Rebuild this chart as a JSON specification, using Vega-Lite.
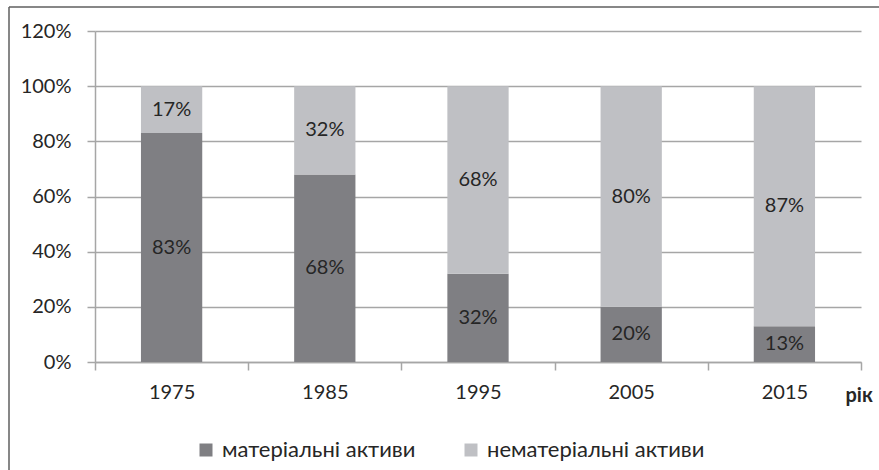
{
  "$schema": "https://vega.github.io/schema/vega-lite/v6.json",
  "autosize": "none",
  "width": 870,
  "height": 463,
  "padding": {"left": 9, "top": 7, "right": 0, "bottom": 0},
  "background": "white",
  "config": {
    "font": "Lato",
    "view": {"stroke": "#606060", "strokeWidth": 1.5, "strokeDash": [870, 1333, 463, 0]},
    "axis": {"labelFont": "Lato", "labelFontSize": 20, "labelColor": "#262626", "domainColor": "#a6a6a6", "domainWidth": 1.5, "tickColor": "#a6a6a6", "tickWidth": 1.5, "tickSize": 8, "gridColor": "#a6a6a6", "gridWidth": 1.5},
    "legend": {"labelFont": "Lato", "labelFontSize": 22, "labelColor": "#262626"}
  },
  "data": {"values": [
    {"year": "1975", "type": "матеріальні активи", "value": 0.83, "ord": 1},
    {"year": "1975", "type": "нематеріальні активи", "value": 0.17, "ord": 2},
    {"year": "1985", "type": "матеріальні активи", "value": 0.68, "ord": 1},
    {"year": "1985", "type": "нематеріальні активи", "value": 0.32, "ord": 2},
    {"year": "1995", "type": "матеріальні активи", "value": 0.32, "ord": 1},
    {"year": "1995", "type": "нематеріальні активи", "value": 0.68, "ord": 2},
    {"year": "2005", "type": "матеріальні активи", "value": 0.20, "ord": 1},
    {"year": "2005", "type": "нематеріальні активи", "value": 0.80, "ord": 2},
    {"year": "2015", "type": "матеріальні активи", "value": 0.13, "ord": 1},
    {"year": "2015", "type": "нематеріальні активи", "value": 0.87, "ord": 2}
  ]},
  "encoding": {
    "x": {"field": "year", "type": "nominal", "sort": null,
      "scale": {"paddingInner": 0, "paddingOuter": 0, "range": [86, 852]},
      "axis": {"title": "рік", "labelAngle": 0, "labelPadding": 12, "tickBand": "extent", "offset": -108,
        "titleFont": "Lato", "titleFontSize": 20, "titleFontWeight": "bold", "titleColor": "#262626",
        "titleX": 836, "titleY": 39, "titleAlign": "left", "titleBaseline": "alphabetic", "titleAnchor": null}},
    "order": {"field": "ord", "type": "quantitative", "sort": "ascending"}
  },
  "layer": [
    {
      "mark": {"type": "bar", "width": {"band": 0.4}},
      "encoding": {
        "y": {"field": "value", "type": "quantitative", "stack": "zero",
          "scale": {"domain": [0, 1.2], "nice": false, "range": [355, 24]},
          "axis": {"title": null, "format": ".0%", "values": [0, 0.2, 0.4, 0.6, 0.8, 1.0, 1.2], "grid": true, "labelPadding": 16, "offset": -86}},
        "color": {"field": "type", "type": "nominal",
          "scale": {"domain": ["матеріальні активи", "нематеріальні активи"], "range": ["#7f7f83", "#bfc0c4"]},
          "legend": {"title": null, "orient": "none", "direction": "horizontal", "legendX": 186, "legendY": 432,
            "symbolType": "square", "symbolSize": 169, "symbolStrokeWidth": 0, "labelOffset": 5, "columnPadding": 44, "padding": 0, "labelLimit": 0}}
      }
    },
    {
      "mark": {"type": "text", "font": "Lato", "fontSize": 20, "color": "#262626"},
      "encoding": {
        "y": {"field": "value", "type": "quantitative", "stack": "zero", "bandPosition": 0.5},
        "detail": {"field": "type", "type": "nominal"},
        "text": {"field": "value", "type": "quantitative", "format": ".0%"}
      }
    }
  ]
}
